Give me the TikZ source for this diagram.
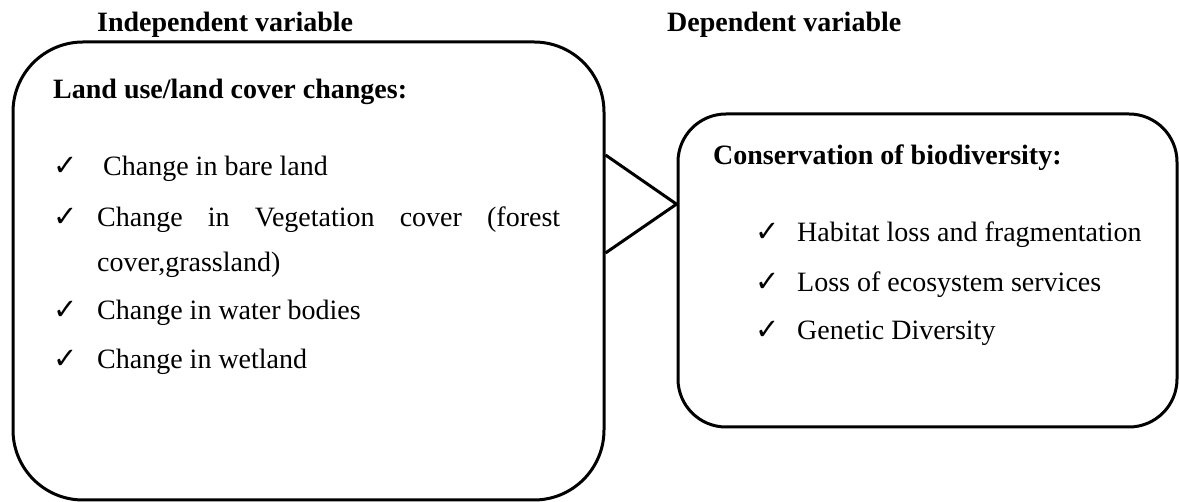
\documentclass[tikz,border=0pt]{standalone}
\usepackage{fontspec}
\setmainfont{Liberation Serif}
\newfontfamily\checkfont{DejaVu Sans}
\usepackage{tikz}
\usetikzlibrary{calc}

\begin{document}
\begin{tikzpicture}[x=1pt, y=1pt,
    font=\fontsize{28}{32}\selectfont,
    varbox/.style={draw, line width=3pt, rounded corners=#1, inner sep=0pt},
    heading/.style={anchor=base west, inner sep=0pt, font=\fontsize{28}{32}\selectfont\bfseries},
    item/.style={anchor=base west, inner sep=0pt},
    tickmark/.style={anchor=base west, inner sep=0pt, font=\checkfont\fontsize{29}{32}\selectfont}]
    \useasboundingbox (0,0) rectangle (1179,502);
    \node[varbox=70pt, minimum width=591pt, minimum height=458pt] (landbox) at (308.5,231) {};
    \node[varbox=48pt, minimum width=499pt, minimum height=313pt] (consbox) at (927.5,231.5) {};
    \draw[line width=3pt, line join=miter] (landbox.east |- 0,347) -- ($(consbox.north west)!0.29!(consbox.south west)$) -- (landbox.east |- 0,249);
    \node[heading] (indeptitle) at (97,470) {Independent variable};
    \node[heading] (deptitle) at (667,470) {Dependent variable};
    \node[heading] (landtitle) at (53,403) {Land use/land cover changes:};
    \node[tickmark] (ck1) at (53,326) {✓};
    \node[item] (bareland) at (103,326) {Change in bare land};
    \node[tickmark] (ck2) at (53,275) {✓};
    \node[item] (vegcover) at (97,275) {\hbox to 463pt{Change\hfill in\hfill Vegetation\hfill cover\hfill (forest}};
    \node[item] (grassland) at (97,230) {cover,grassland)};
    \node[tickmark] (ck3) at (53,182) {✓};
    \node[item] (water) at (97,182) {Change in water bodies};
    \node[tickmark] (ck4) at (53,133) {✓};
    \node[item] (wetland) at (97,133) {Change in wetland};
    \node[heading] (constitle) at (713,337) {Conservation of biodiversity:};
    \node[tickmark] (ck5) at (755,260) {✓};
    \node[item] (habitat) at (797,260) {Habitat loss and fragmentation};
    \node[tickmark] (ck6) at (755,210) {✓};
    \node[item] (ecoserv) at (797,210) {Loss of ecosystem services};
    \node[tickmark] (ck7) at (755,162) {✓};
    \node[item] (genetic) at (797,162) {Genetic Diversity};
\end{tikzpicture}
\end{document}
